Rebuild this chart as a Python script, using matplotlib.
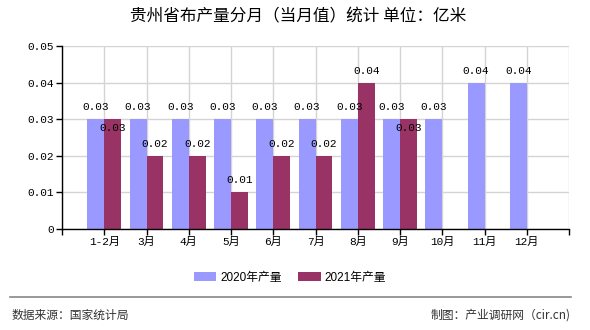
import numpy as np
import matplotlib
matplotlib.use('agg')
import matplotlib.pyplot as plt
from matplotlib.patches import Patch
from matplotlib.lines import Line2D

# data
months = ['1-2月', '3月', '4月', '5月', '6月', '7月', '8月', '9月', '10月', '11月', '12月']
prod_2020 = [0.03, 0.03, 0.03, 0.03, 0.03, 0.03, 0.03, 0.03, 0.03, 0.04, 0.04]
prod_2021 = [0.03, 0.02, 0.02, 0.01, 0.02, 0.02, 0.04, 0.03, np.nan, np.nan, np.nan]
series_names = ['2020年产量', '2021年产量']
y_ticks = [0, 0.01, 0.02, 0.03, 0.04, 0.05]
y_labels = ['0', '0.01', '0.02', '0.03', '0.04', '0.05']

title = '贵州省布产量分月（当月值）统计 单位：亿米'
source = '数据来源：国家统计局'
maker = '制图：产业调研网（cir.cn)'

blue = '#9999ff'
red = '#993366'
mono = ['Liberation Mono', 'Noto Sans CJK SC']
cjk = ['Noto Sans CJK SC', 'DejaVu Sans']
W, H = 590, 330

fig = plt.figure(figsize=(W / 100, H / 100), dpi=100)
ax = fig.add_axes([62 / W, 1 - 229 / H, (569 - 62) / W, (229 - 46) / H])

x = np.arange(len(months))
bw = 0.4
ax.bar(x - bw / 2, prod_2020, bw, color=blue, zorder=3)
ax.bar(x + bw / 2, prod_2021, bw, color=red, zorder=3)

# value labels
for i in range(len(months)):
    a = prod_2020[i]
    ax.annotate(f'{a:.2f}', (x[i] - bw / 2, a), xytext=(0, 12), textcoords='offset pixels',
                ha='center', va='center', fontsize=8, family=mono, zorder=5)
    b = prod_2021[i]
    if np.isnan(b):
        continue
    off = -9 if b == a else 12
    ax.annotate(f'{b:.2f}', (x[i] + bw / 2, b), xytext=(0, off), textcoords='offset pixels',
                ha='center', va='center', fontsize=8, family=mono, zorder=5)

ax.set_xlim(-1, len(months))
ax.set_ylim(0, 0.05)
ax.set_xticks(np.arange(-1, len(months) + 1))
ax.set_xticklabels([''] + months + [''], family=mono, fontsize=8)
ax.set_yticks(y_ticks)
ax.set_yticklabels(y_labels, family=mono, fontsize=8)
ax.tick_params(axis='both', direction='out', length=4, width=1, color='black', pad=2)
ax.grid(True, color='#d4d4d4', linewidth=1, zorder=0)
for s in ['top', 'right']:
    ax.spines[s].set_visible(False)
for s in ['left', 'bottom']:
    ax.spines[s].set_color('black')
    ax.spines[s].set_linewidth(1)
    ax.spines[s].set_zorder(4)

fig.text(298 / W, 1 - 17 / H, title, ha='center', va='center', fontsize=12, family=cjk)

handles = [Patch(facecolor=blue), Patch(facecolor=red)]
fig.legend(handles, series_names, loc='center', bbox_to_anchor=(290 / W, 1 - 277.5 / H), ncol=2,
           frameon=False, prop={'family': ['Liberation Sans', 'Noto Sans CJK SC'], 'size': 8.5},
           handlelength=1.9, handleheight=0.75, handletextpad=0.35, columnspacing=1.4)

fig.add_artist(Line2D([10 / W, 571 / W], [1 - 297 / H, 1 - 297 / H], color='#888888', linewidth=1.2))
fig.text(12 / W, 1 - 315 / H, source, ha='left', va='center', fontsize=8.5, family=cjk, color='#333333')
fig.text(571 / W, 1 - 315 / H, maker, ha='right', va='center', fontsize=8.5, family=cjk, color='#333333')

fig.savefig('out.png', dpi=100)
